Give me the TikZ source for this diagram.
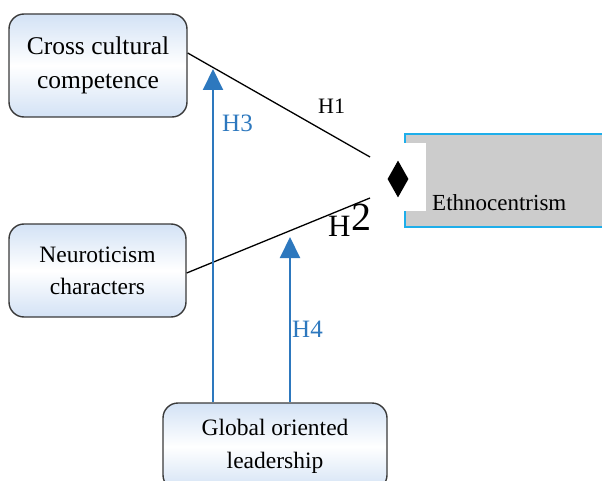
\documentclass[tikz,border=0pt]{standalone}
\usepackage{fontspec}
\setmainfont{Liberation Serif}
\usetikzlibrary{arrows.meta,shapes.geometric}
\definecolor{boxline}{HTML}{3A3A3A}
\definecolor{boxblue}{HTML}{D3E2F5}
\definecolor{hblue}{HTML}{2D78BE}
\definecolor{ethline}{HTML}{1EAEEA}
\definecolor{ethgray}{HTML}{CCCCCC}
\tikzset{
  varbox/.style={draw=boxline, line width=1.4pt, rounded corners=15pt,
    top color=boxblue, bottom color=boxblue, middle color=white,
    align=center, inner sep=0pt},
  link/.style={draw=black, line width=1.3pt},
  modarrow/.style={draw=hblue, line width=2pt, -{Triangle[width=20pt,length=21pt]}},
  hlab/.style={inner sep=0pt, anchor=base west},
}
\begin{document}
\begin{tikzpicture}[x=1pt,y=-1pt]
\useasboundingbox (0,0) rectangle (602,481);
\begin{scope}
\clip (0,0) rectangle (602,481);
% Ethnocentrism box
\draw[draw=ethline, line width=1.6pt, fill=ethgray] (405,134) rectangle (640,227);
\fill[white] (395,143.5) rectangle (426,211);
\node[diamond, fill=black, minimum width=21pt, minimum height=37pt, inner sep=0pt] (dia) at (398,179) {};
\node[hlab, font=\fontsize{23}{28}\selectfont] (eth) at (432,211) {Ethnocentrism};
% Variable boxes
\node[varbox, minimum width=178pt, minimum height=103pt,
      font=\fontsize{25.5}{34}\selectfont] (cross) at (98,65.5) {Cross cultural\\competence};
\node[varbox, minimum width=177pt, minimum height=93pt,
      font=\fontsize{23.5}{32}\selectfont] (neuro) at (97.5,270.5) {Neuroticism\\characters};
\node[varbox, minimum width=224pt, minimum height=87pt,
      font=\fontsize{23.5}{33}\selectfont] (glob) at (275,446.5) {Global oriented\\leadership};
% Direct effects
\coordinate (e1) at (370,157);
\coordinate (e2) at (370,198);
\draw[link] ([yshift=12.5pt]cross.east) -- (e1);
\draw[link] ([yshift=-2.5pt]neuro.east) -- (e2);
% Moderation arrows
\coordinate (h3tip) at (213,69);
\coordinate (h4tip) at (290,237);
\draw[modarrow] (glob.north -| h3tip) -- (h3tip);
\draw[modarrow] (glob.north -| h4tip) -- (h4tip);
% Labels
\node[hlab, font=\fontsize{22}{26}\selectfont] (l1) at (318,114) {H1};
\node[hlab, font=\fontsize{31}{36}\selectfont] (l2a) at (328,236) {H};
\node[hlab, font=\fontsize{40}{46}\selectfont] (l2b) at (351,230) {2};
\node[hlab, text=hblue, font=\fontsize{25}{30}\selectfont] (l3) at (222,132) {H3};
\node[hlab, text=hblue, font=\fontsize{25}{30}\selectfont] (l4) at (292,337) {H4};
\end{scope}
\end{tikzpicture}
\end{document}
